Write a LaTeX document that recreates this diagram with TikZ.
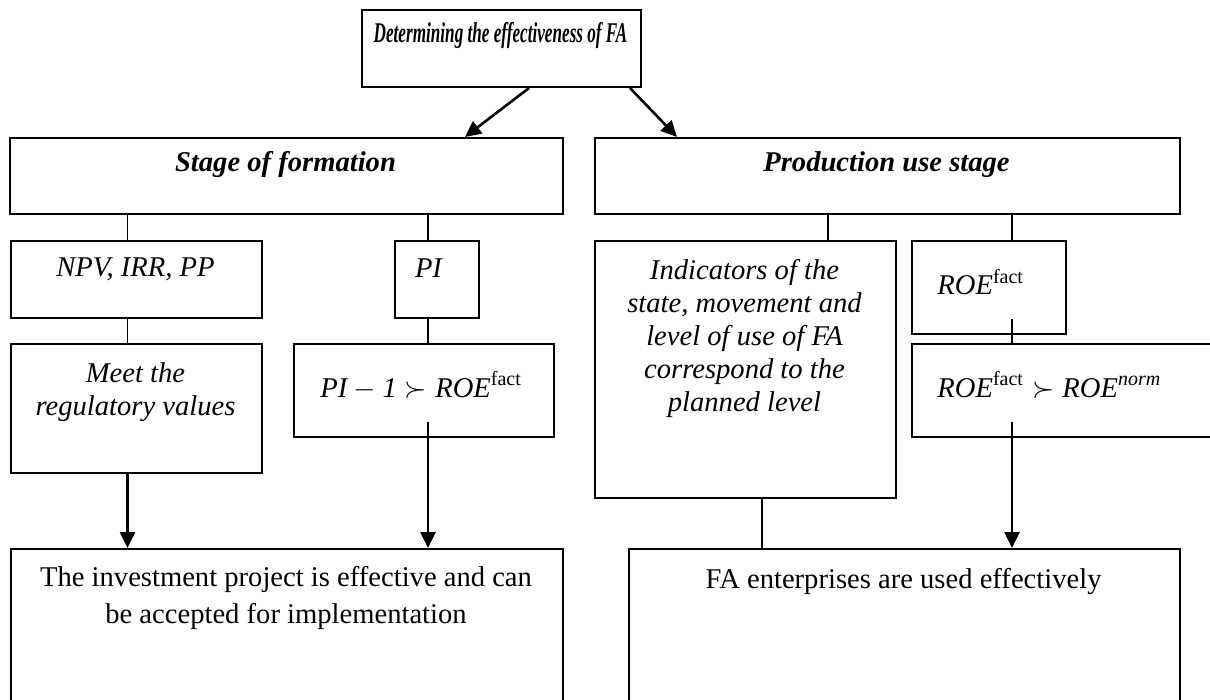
\documentclass[tikz,border=0pt]{standalone}
\usepackage{amsmath}
\usepackage{graphicx}
\usepackage{fontspec}
\setmainfont{Liberation Serif}
\usetikzlibrary{arrows.meta}

\begin{document}
\begin{tikzpicture}[
    % one unit is one pixel of the page
    x=0.5pt, y=-0.5pt,
    % boxes and their texts
    box/.style={
        draw,
        line width=1pt,
        anchor=north west,
        inner sep=0pt
    },
    txt/.style={
        anchor=base,
        align=center,
        inner sep=0pt,
        font=\fontsize{14.3}{16.5}\selectfont
    },
    itxt/.style={txt, font=\fontsize{14.3}{16.5}\selectfont\itshape},
    head/.style={txt, font=\fontsize{14.3}{16.5}\selectfont\bfseries\itshape},
    result/.style={txt, font=\fontsize{14.3}{18.5}\selectfont},
    % connectors
    link/.style={line width=0.8pt},
    arrow/.style={line width=1.3pt, -{Triangle[length=8pt,width=7.5pt]}}
]
    \clip (0,0) rectangle (1210,700);

    % Goal
    \node[box, minimum width=139.5pt, minimum height=38.5pt] (goal) at (361,9) {};
    \node[head] (goaltext) at (500.5,43) {\scalebox{0.6}[1]{Determining the effectiveness of FA}};

    % Two stages
    \node[box, minimum width=276.5pt, minimum height=38pt] (formation) at (9,137) {};
    \node[head] (formationtext) at (285.5,172) {Stage of formation};
    \node[box, minimum width=292.5pt, minimum height=38pt] (production) at (594,137) {};
    \node[head] (productiontext) at (886.5,172) {Production use stage};

    % Stage of formation (multi-line texts sit on their last line)
    \node[box, minimum width=125.5pt, minimum height=38.5pt] (npv) at (10,240) {};
    \node[itxt] (npvtext) at (135.5,277) {NPV, IRR, PP};
    \node[box, minimum width=42pt, minimum height=38.5pt] (pi) at (394,240) {};
    \node[itxt] (pitext) at (428.5,278) {PI};
    \node[box, minimum width=125.5pt, minimum height=64.5pt] (meet) at (10,343) {};
    \node[itxt] (meettext) at (135.5,415) {Meet the\\regulatory values};
    \node[box, minimum width=130pt, minimum height=46.5pt] (pione) at (293,343) {};
    \node[txt, anchor=base west] (pionetext) at (320,397)
        {$\textit{PI}-\textit{1}\succ\textit{ROE}^{\textrm{fact}}$};

    % Production use stage
    \node[box, minimum width=150.5pt, minimum height=128.5pt] (ind) at (594,240) {};
    \node[itxt] (indtext) at (744.5,411)
        {Indicators of the\\state, movement and\\level of use of FA\\correspond to the\\planned level};
    \node[box, minimum width=77pt, minimum height=46.5pt] (roe) at (911,240) {};
    \node[txt, anchor=base west] (roetext) at (937,295) {$\textit{ROE}^{\textrm{fact}}$};
    \node[box, minimum width=160pt, minimum height=46.5pt] (roenorm) at (911,343) {};
    \node[txt, anchor=base west] (roenormtext) at (937,397)
        {$\textit{ROE}^{\textrm{fact}}\succ\textit{ROE}^{\textit{norm}}$};

    % Results
    \node[box, minimum width=276pt, minimum height=100pt] (resform) at (10,548) {};
    \node[result] (resformtext) at (286,623)
        {The investment project is effective and can\\be accepted for implementation};
    \node[box, minimum width=275.5pt, minimum height=100pt] (resprod) at (628,548) {};
    \node[result] (resprodtext) at (903.5,588) {FA enterprises are used effectively};

    % Columns of the connectors
    \coordinate (colA) at (127.5,0);
    \coordinate (colB) at (428,0);
    \coordinate (colC) at (828,0);
    \coordinate (colD) at (762,0);
    \coordinate (colE) at (1012,0);

    % Goal to stages
    \draw[arrow] ([xshift=13.75pt]goal.south) -- ([xshift=89.25pt]formation.north);
    \draw[arrow] ([xshift=64.25pt]goal.south) -- ([xshift=-105.25pt]production.north);

    % Stage of formation
    \draw[link] (colA |- formation.south) -- (colA |- npv.north);
    \draw[link] (colA |- npv.south) -- (colA |- meet.north);
    \draw[arrow] (colA |- meet.south) -- (colA |- resform.north);
    \draw[link] (colB |- formation.south) -- (colB |- pi.north);
    \draw[link] (colB |- pi.south) -- (colB |- pione.north);
    \draw[arrow] (colB |- pione.south) ++(0,-16) -- (colB |- resform.north);

    % Production use stage
    \draw[link] (colC |- production.south) -- (colC |- ind.north);
    \draw[link] (colD |- ind.south) -- (colD |- resprod.north);
    \draw[link] (colE |- production.south) -- (colE |- roe.north);
    \draw[link] (colE |- roe.south) ++(0,-16) -- (colE |- roenorm.north);
    \draw[arrow] (colE |- roenorm.south) ++(0,-16) -- (colE |- resprod.north);
\end{tikzpicture}
\end{document}
